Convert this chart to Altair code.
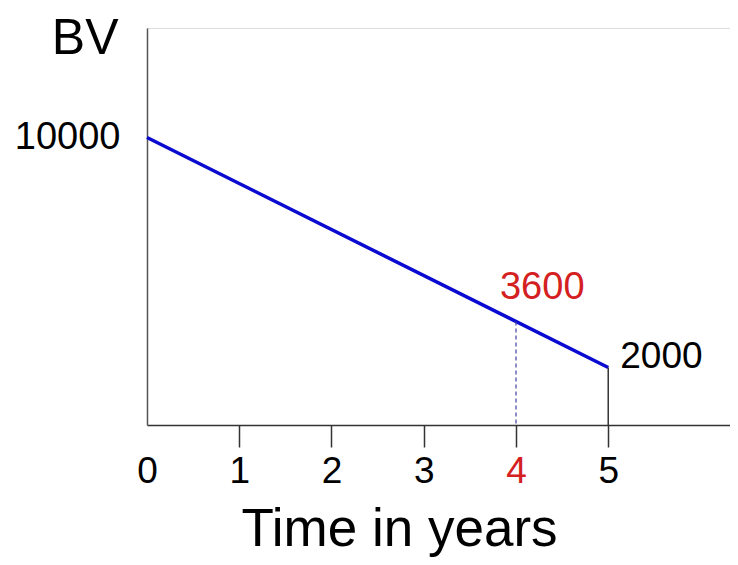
import altair as alt
import pandas as pd

# Data
years = [0, 5]
book_values = [10000, 2000]
x_ticks = [0, 1, 2, 3, 4, 5]
y_ticks = [10000]
highlight_year = [4]
highlight_value = [3600]
end_year = [5]
end_value = [2000]

FONT = "Liberation Sans"
RED = "#d42020"

line_df = pd.DataFrame({"t": years, "bv": book_values})
hl_df = pd.DataFrame({"t": highlight_year, "bv": highlight_value, "zero": [0],
                      "lab": [str(v) for v in highlight_value]})
end_df = pd.DataFrame({"t": end_year, "bv": end_value, "zero": [0],
                       "lab": [str(v) for v in end_value]})

xs = alt.Scale(domain=[0, 6.32], nice=False, zero=False)
ys = alt.Scale(domain=[0, 13810], nice=False, zero=False)

x_axis = alt.Axis(
    values=x_ticks, format="d", title="Time in years", grid=False,
    domainColor="#333333", domainWidth=1.5,
    tickColor=alt.condition(alt.datum.value == 0, alt.value("transparent"), alt.value("#333333")),
    tickSize=22, tickWidth=1.5,
    labelColor=alt.condition(alt.datum.value == 4, alt.value(RED), alt.value("black")),
    labelFont=FONT, labelFontSize=37, labelPadding=6, labelFlush=False,
    titleFont=FONT, titleFontSize=53, titleFontWeight="normal", titleColor="black",
    titleX=252, titleY=120, titleAlign="center", titleBaseline="alphabetic", titleAnchor="start",
)
y_axis = alt.Axis(
    values=y_ticks, format="d", title="BV", grid=False,
    domainColor="#555555", domainWidth=1.5, ticks=False,
    labelFont=FONT, labelFontSize=38, labelPadding=27, labelColor="black",
    titleFont=FONT, titleFontSize=50, titleFontWeight="normal", titleColor="black",
    titleAngle=0, titleX=-29, titleY=25, titleAlign="right", titleBaseline="alphabetic",
    titleAnchor="start",
)

base_line = alt.Chart(line_df).mark_line(color="#0a0ad0", strokeWidth=3.5).encode(
    x=alt.X("t:Q", scale=xs, axis=x_axis),
    y=alt.Y("bv:Q", scale=ys, axis=y_axis),
)

dash = alt.Chart(hl_df).mark_rule(color="#4040a0", strokeWidth=1.2, strokeDash=[4, 3]).encode(
    x="t:Q", y="bv:Q", y2="zero:Q"
)
end_rule = alt.Chart(end_df).mark_rule(color="#333333", strokeWidth=1.5).encode(
    x="t:Q", y="bv:Q", y2="zero:Q"
)
hl_text = alt.Chart(hl_df).mark_text(
    font=FONT, fontSize=38, color=RED, align="left", baseline="alphabetic", dx=-16, dy=-23
).encode(x="t:Q", y="bv:Q", text="lab:N")
end_text = alt.Chart(end_df).mark_text(
    font=FONT, fontSize=37, color="black", align="left", baseline="alphabetic", dx=12, dy=0
).encode(x="t:Q", y="bv:Q", text="lab:N")

chart = alt.layer(base_line, dash, end_rule, hl_text, end_text).properties(
    width=583, height=397,
    autosize=alt.AutoSizeParams(type="none"),
    padding={"left": 139, "top": 20, "right": 0, "bottom": 132},
).configure_view(stroke=None).configure(background="white")

chart.save("out.html", embed_options={"renderer": "svg", "actions": False})
